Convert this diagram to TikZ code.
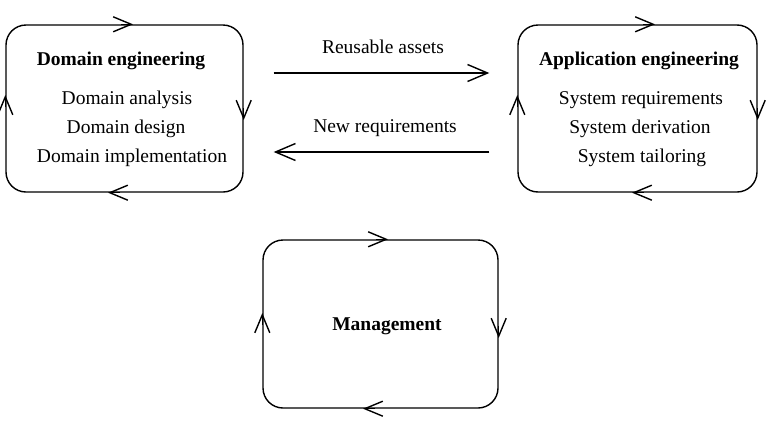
\documentclass[tikz,border=0pt]{standalone}
\usepackage{fontspec}
\setmainfont{Liberation Serif}
\usetikzlibrary{arrows.meta}
\begin{document}
\begin{tikzpicture}[x=1pt,y=-1pt,
  box/.style={draw, line width=1.4pt, rounded corners=20pt, inner sep=0pt},
  txt/.style={anchor=base, inner sep=0pt, font=\fontsize{19.5}{23}\selectfont},
  ttl/.style={txt, font=\fontsize{19.5}{23}\selectfont\bfseries},
  vtip/.style={line width=1.4pt, -{Straight Barb[length=18pt,width=15pt,line width=1.4pt]}},
  conn/.style={line width=1.4pt, -{Straight Barb[length=20pt,width=17pt,line width=1.4pt]}}]
\useasboundingbox (0,0) rectangle (766,426);
% boxes
\node[box, minimum width=237pt, minimum height=167pt] (de) at (124.5,108.5) {};
\node[box, minimum width=239pt, minimum height=167pt] (ae) at (637.5,108.5) {};
\node[box, minimum width=235pt, minimum height=168pt] (mg) at (380.5,324) {};
% circulation arrowheads
\draw[vtip] ([xshift=-12pt]de.north -| 133,0) -- (de.north -| 133,0);
\draw[vtip] ([xshift=12pt]de.south -| 108,0) -- (de.south -| 108,0);
\draw[vtip] (de.west |- 0,107) -- (de.west |- 0,95);
\draw[vtip] (de.east |- 0,108) -- (de.east |- 0,120);
\draw[vtip] ([xshift=-12pt]ae.north -| 655,0) -- (ae.north -| 655,0);
\draw[vtip] ([xshift=12pt]ae.south -| 632,0) -- (ae.south -| 632,0);
\draw[vtip] (ae.west |- 0,107) -- (ae.west |- 0,95);
\draw[vtip] (ae.east |- 0,108) -- (ae.east |- 0,120);
\draw[vtip] ([xshift=-12pt]mg.north -| 388,0) -- (mg.north -| 388,0);
\draw[vtip] ([xshift=12pt]mg.south -| 363,0) -- (mg.south -| 363,0);
\draw[vtip] (mg.west |- 0,325) -- (mg.west |- 0,313);
\draw[vtip] (mg.east |- 0,326) -- (mg.east |- 0,338);
% texts
\node[ttl] (det) at (121,65) {Domain engineering};
\node[txt] (de1) at (127,104) {Domain analysis};
\node[txt] (de2) at (126,133) {Domain design};
\node[txt] (de3) at (132,162) {Domain implementation};
\node[ttl] (aet) at (639,65) {Application engineering};
\node[txt] (ae1) at (641,104) {System requirements};
\node[txt] (ae2) at (640,133) {System derivation};
\node[txt] (ae3) at (642,162) {System tailoring};
\node[ttl] (mgt) at (387,330) {Management};
% connectors
\coordinate (r1) at ([xshift=30pt]de.east |- 0,73);
\coordinate (r2) at ([xshift=-28pt]ae.west |- 0,73);
\coordinate (n1) at ([xshift=-28pt]ae.west |- 0,152);
\coordinate (n2) at ([xshift=30pt]de.east |- 0,152);
\draw[conn] (r1) -- (r2);
\draw[conn] (n1) -- (n2);
\node[txt] (rl) at (383,53) {Reusable assets};
\node[txt] (nl) at (385,132) {New requirements};
\end{tikzpicture}
\end{document}
